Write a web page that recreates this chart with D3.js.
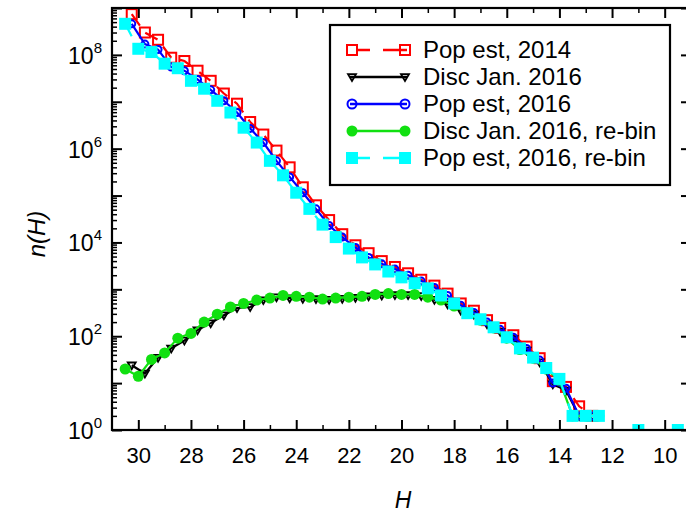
<!DOCTYPE html>
<html><head><meta charset="utf-8">
<script src="https://cdn.jsdelivr.net/npm/d3@7/dist/d3.min.js"></script>
<style>body{margin:0;background:#fff} text{font-family:"Liberation Sans",Arial,sans-serif}</style>
</head><body><svg id="c" width="686" height="515"></svg>
<script>
// H bins (quarter offsets) for the un-binned series
const hA = [30.25,29.75,29.25,28.75,28.25,27.75,27.25,26.75,26.25,25.75,25.25,24.75,24.25,23.75,23.25,22.75,22.25,21.75,21.25,20.75,20.25,19.75,19.25,18.75,18.25,17.75,17.25,16.75,16.25,15.75,15.25,14.75,14.25,13.75,13.25,12.75];
const popEst2014 = [7.4e8,3.0e8,2.1e8,8.7e7,7.4e7,4.6e7,2.8e7,1.5e7,9.1e6,3.7e6,2.0e6,9.1e5,4.0e5,1.5e5,6.2e4,3.0e4,1.5e4,8.7e3,5.9e3,4.0e3,3.0e3,2.2e3,1.6e3,1.2e3,810,500,350,220,150,105,60,34,11,8.3,3.2,2];
const discJan2016 = [24,16,35,55,81,135,190,280,400,420,590,680,650,630,620,600,630,660,710,740,760,760,720,600,480,355,290,180,125,87,50,28,9.5,7,2,2];
const popEst2016 = [4.6e8,1.7e8,1.3e8,5.5e7,4.6e7,3.0e7,1.8e7,1.05e7,5.9e6,2.7e6,1.35e6,5.5e5,2.5e5,1.15e5,5.2e4,2.3e4,1.3e4,7.8e3,4.8e3,3.5e3,2.7e3,2.0e3,1.5e3,1.1e3,740,460,320,200,140,95,55,31,10,7.8,2,2];
// H bins (half-magnitude) for the re-binned series
const hB = [30.5,30,29.5,29,28.5,28,27.5,27,26.5,26,25.5,25,24.5,24,23.5,23,22.5,22,21.5,21,20.5,20,19.5,19,18.5,18,17.5,17,16.5,16,15.5,15,14.5,14,13.5,13,12.5,12,11.5,11,10.5,10,9.5];
const discRebin = [20,14,32,44,91,115,200,295,420,500,590,650,740,710,680,620,650,680,710,780,810,780,780,680,590,440,310,220,150,91,52,34,20,11.5,2,2,2,null,null,null,null,null,null];
const popRebin = [4.6e8,1.35e8,1.15e8,6.5e7,5.2e7,2.8e7,1.9e7,1.05e7,5.9e6,2.8e6,1.35e6,5.5e5,2.7e5,1.15e5,5.2e4,2.4e4,1.3e4,7.4e3,4.8e3,3.4e3,2.4e3,1.8e3,1.35e3,1.05e3,740,500,310,230,155,95,55,35,21,12.3,2,2,2,null,null,1,null,null,1];
const xMajor = [30,28,26,24,22,20,18,16,14,12,10];
const xMinor = [29,27,25,23,21,19,17,15,13,11];
const yExp = [0,2,4,6,8];
const legendLabels = ["Pop est, 2014","Disc Jan. 2016","Pop est, 2016","Disc Jan. 2016, re-bin","Pop est, 2016, re-bin"];

const svg = d3.select("#c");
const L=112, R=691, T=8, B=430;
const x = d3.scaleLinear().domain([31,9]).range([L,R]);
const y = d3.scaleLog().domain([1,1e9]).range([B,T]);

const series = [
  {name:legendLabels[0], h:hA, v:popEst2014, color:"#ff0000", dash:"14,9", marker:"sq", fill:"none", size:10},
  {name:legendLabels[1], h:hA, v:discJan2016, color:"#000000", dash:null, marker:"tri", fill:"none", size:8},
  {name:legendLabels[2], h:hA, v:popEst2016, color:"#0000ff", dash:null, marker:"circ", fill:"none", size:7},
  {name:legendLabels[3], h:hB, v:discRebin, color:"#11e011", dash:null, marker:"circ", fill:"#11e011", size:11},
  {name:legendLabels[4], h:hB, v:popRebin, color:"#00ffff", dash:"14,9", marker:"sq", fill:"#00ffff", size:12}
];

svg.append("defs").append("clipPath").attr("id","clip")
  .append("rect").attr("x",L).attr("y",T).attr("width",R-L).attr("height",B-T);

function drawMarker(g, s, cx, cy){
  if(s.marker==="sq"){
    g.append("rect").attr("x",cx-s.size/2).attr("y",cy-s.size/2).attr("width",s.size).attr("height",s.size)
     .attr("fill",s.fill).attr("stroke",s.color).attr("stroke-width",s.fill==="none"?2:0);
  } else if(s.marker==="circ"){
    g.append("circle").attr("cx",cx).attr("cy",cy).attr("r",s.size/2)
     .attr("fill",s.fill).attr("stroke",s.color).attr("stroke-width",s.fill==="none"?2:0);
  } else {
    const r=s.size/2;
    g.append("path").attr("d",`M${cx-r},${cy-r*0.7}L${cx+r},${cy-r*0.7}L${cx},${cy+r}Z`)
     .attr("fill","none").attr("stroke",s.color).attr("stroke-width",1.8);
  }
}

const plot = svg.append("g").attr("clip-path","url(#clip)");
series.forEach(s=>{
  const pts = s.h.map((h,i)=>({h, v:s.v[i]}));
  const line = d3.line().defined(d=>d.v!=null).x(d=>x(d.h)).y(d=>y(d.v));
  plot.append("path").attr("d",line(pts)).attr("fill","none").attr("stroke",s.color)
    .attr("stroke-width",2.2).attr("stroke-dasharray",s.dash);
  const mg = plot.append("g");
  pts.filter(d=>d.v!=null).forEach(d=>drawMarker(mg,s,x(d.h),y(d.v)));
});

// axes
const minorY = [];
for(let e=0;e<9;e++) for(let m=2;m<=9;m++) minorY.push(m*Math.pow(10,e));
const majorY = [1,1e1,1e2,1e3,1e4,1e5,1e6,1e7,1e8,1e9];

function styleAxis(g){ g.select(".domain").remove(); g.selectAll("line").attr("stroke","#000").attr("stroke-width",2); }
function styleMinor(g){ g.select(".domain").remove(); g.selectAll("line").attr("stroke","#000").attr("stroke-width",1.5); }

const bx = svg.append("g").attr("transform",`translate(0,${B})`)
  .call(d3.axisBottom(x).tickValues(xMajor).tickSize(-10).tickPadding(17).tickFormat(d3.format("d")));
styleAxis(bx);
bx.selectAll("text").attr("font-size",22).attr("fill","#000").attr("font-family","Liberation Sans, Arial, sans-serif");
styleMinor(svg.append("g").attr("transform",`translate(0,${B})`).call(d3.axisBottom(x).tickValues(xMinor).tickSize(-5).tickFormat("")));
styleAxis(svg.append("g").attr("transform",`translate(0,${T})`).call(d3.axisTop(x).tickValues(xMajor).tickSize(-10).tickFormat("")));
styleMinor(svg.append("g").attr("transform",`translate(0,${T})`).call(d3.axisTop(x).tickValues(xMinor).tickSize(-5).tickFormat("")));

const ly = svg.append("g").attr("transform",`translate(${L},0)`)
  .call(d3.axisLeft(y).tickValues(majorY).tickSize(-10).tickPadding(10).tickFormat(""));
styleAxis(ly);
styleMinor(svg.append("g").attr("transform",`translate(${L},0)`).call(d3.axisLeft(y).tickValues(minorY).tickSize(-5).tickFormat("")));
styleAxis(svg.append("g").attr("transform",`translate(${R},0)`).call(d3.axisRight(y).tickValues(majorY).tickSize(-10).tickFormat("")));
styleMinor(svg.append("g").attr("transform",`translate(${R},0)`).call(d3.axisRight(y).tickValues(minorY).tickSize(-5).tickFormat("")));

// y labels with superscripts
yExp.forEach(e=>{
  const t = svg.append("text").attr("x",L-10).attr("y",y(Math.pow(10,e))+9)
    .attr("text-anchor","end").attr("font-size",23).attr("fill","#000");
  t.append("tspan").text("10");
  t.append("tspan").attr("dy",-11).attr("font-size",15).text(e);
});

// frame
svg.append("rect").attr("x",L).attr("y",T).attr("width",R-L).attr("height",B-T)
  .attr("fill","none").attr("stroke","#000").attr("stroke-width",2.2);

// titles
svg.append("text").attr("transform","translate(45,234) rotate(-90)").attr("text-anchor","middle")
  .attr("font-size",24).attr("font-style","italic").text("n(H)");
svg.append("text").attr("x",403).attr("y",508).attr("text-anchor","middle")
  .attr("font-size",23).attr("font-style","italic").text("H");

// legend
const lg = svg.append("g");
lg.append("rect").attr("x",330).attr("y",25).attr("width",340).attr("height",160)
  .attr("fill","#fff").attr("stroke","#000").attr("stroke-width",2.2);
const rowY = [50,77,104,131,158];
series.forEach((s,i)=>{
  const yy = rowY[i];
  lg.append("line").attr("x1",350).attr("x2",407).attr("y1",yy).attr("y2",yy)
    .attr("stroke",s.color).attr("stroke-width",2.5).attr("stroke-dasharray",s.dash?"0,6,14,13,40":null);
  const ms = Object.assign({},s,{size: s.marker==="circ"&&s.fill==="none"?9:s.size});
  drawMarker(lg,ms,352,yy);
  drawMarker(lg,ms,405,yy);
  lg.append("text").attr("x",423).attr("y",yy+8).attr("font-size",24).attr("fill","#000").text(s.name);
});
</script></body></html>
